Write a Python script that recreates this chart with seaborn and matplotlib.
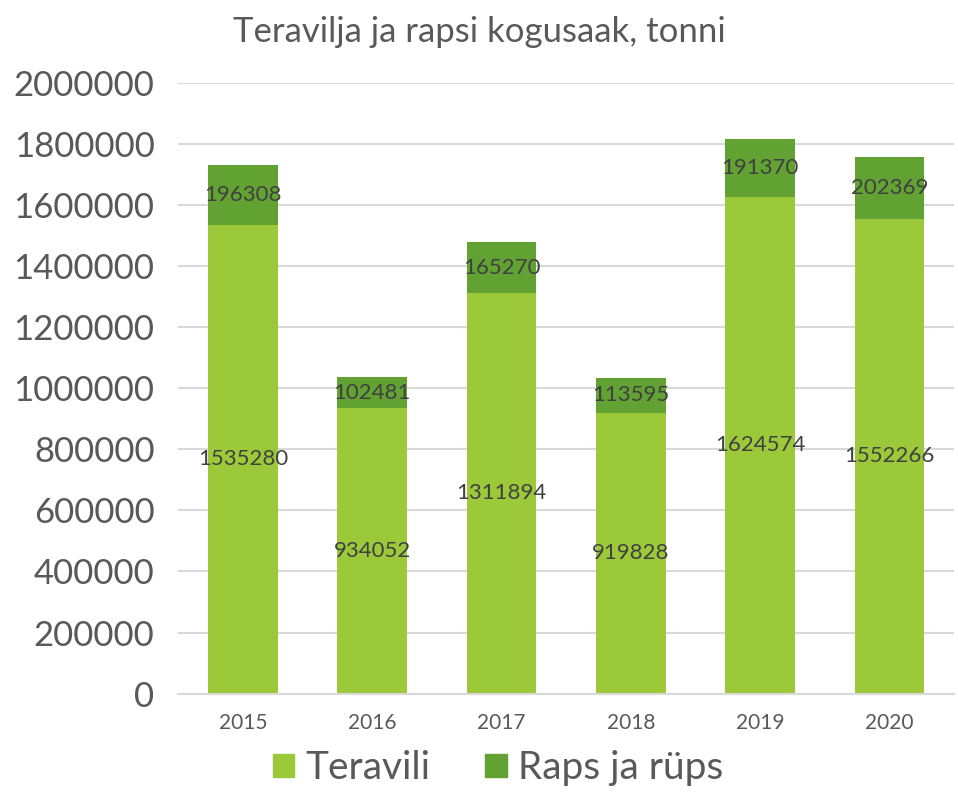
import numpy as np
import pandas as pd
import matplotlib
matplotlib.use("Agg")
from matplotlib import pyplot as plt
from matplotlib.patches import Patch
import seaborn as sns

years = ['2015', '2016', '2017', '2018', '2019', '2020']
teravili = [1535280, 934052, 1311894, 919828, 1624574, 1552266]
raps = [196308, 102481, 165270, 113595, 191370, 202369]

light = "#9BC93A"
dark = "#62A233"
txt = "#595959"

df = pd.DataFrame({'year': years, 'teravili': teravili, 'raps': raps})
df['total'] = df['teravili'] + df['raps']

sns.set_style("white")
plt.rcParams['font.family'] = ['Lato', 'DejaVu Sans']

fig = plt.figure(figsize=[9.58, 8.01], dpi=100)
ax = fig.add_axes([0.186, 0.134, 0.81, 0.763])

sns.barplot(data=df, x='year', y='total', color=dark, width=0.54, saturation=1,
            linewidth=0, ax=ax)
sns.barplot(data=df, x='year', y='teravili', color=light, width=0.54, saturation=1,
            linewidth=0, ax=ax)

for i, row in df.iterrows():
    ax.text(i, row['teravili'] / 2, str(row['teravili']), ha='center', va='center',
            fontsize=16, color='#404040')
    ax.text(i, row['teravili'] + row['raps'] / 2, str(row['raps']), ha='center', va='center',
            fontsize=16, color='#404040')

ax.set_ylim(0, 2000000)
ax.set_yticks(np.arange(0, 2000001, 200000))
ax.set_yticklabels([str(v) for v in np.arange(0, 2000001, 200000)])
ax.grid(axis='y', color='#D9D9D9', linewidth=1.5)
ax.set_axisbelow(True)
for s in ['top', 'right', 'left']:
    ax.spines[s].set_visible(False)
ax.spines['bottom'].set_color('#D9D9D9')
ax.spines['bottom'].set_linewidth(1.5)
ax.tick_params(axis='y', labelsize=25, colors=txt, length=0, pad=17)
ax.tick_params(axis='x', labelsize=15, colors=txt, length=0, pad=14)
ax.set_xlabel('')
ax.set_ylabel('')

fig.suptitle('Teravilja ja rapsi kogusaak, tonni', y=0.98, fontsize=25, color=txt)

handles = [Patch(color=light, label='Teravili'), Patch(color=dark, label='Raps ja rüps')]
fig.legend(handles=handles, loc='lower center', bbox_to_anchor=(0.52, -0.025), ncol=2,
           frameon=False, fontsize=28, labelcolor=txt, handlelength=0.55, handleheight=0.55,
           handletextpad=0.3, columnspacing=1.4)

plt.savefig('out.png', dpi=100)
